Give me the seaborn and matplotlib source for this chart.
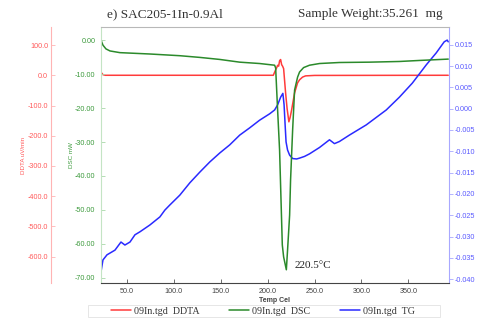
import matplotlib
matplotlib.use("Agg")
import matplotlib.pyplot as plt
import seaborn as sns
from matplotlib.ticker import FormatStrFormatter
from matplotlib.patches import Rectangle

# DSC (mW) vs temperature
temp_dsc = [22.3, 24.4, 27.6, 31.9, 42.5, 74.4, 106.3, 127.6, 148.9, 170.2, 191.4, 207.4,
            208.5, 210.6, 212.7, 215.6, 217.0, 219.9, 221.2, 223.4, 224.4, 226.6, 228.7,
            231.9, 234.0, 238.3, 244.6, 255.3, 276.5, 308.5, 340.4, 361.7, 392.5]
dsc = [0.0, -1.5, -2.6, -3.2, -3.7, -4.1, -4.6, -5.1, -5.7, -6.5, -6.9, -7.4,
       -8.2, -20.6, -32.4, -60.3, -63.8, -67.6, -61.8, -51.5, -41.2, -26.5, -14.7,
       -10.9, -9.4, -8.1, -7.4, -6.9, -6.6, -6.5, -6.3, -6.0, -5.6]

# DDTA (uV/min) vs temperature
temp_ddta = [22.3, 24.4, 27.0, 100.0, 206.0, 208.5, 209.6, 210.6, 211.7, 212.7, 213.8,
             214.9, 215.9, 217.0, 218.1, 219.1, 220.7, 222.6, 223.9, 225.5, 228.7, 231.9,
             234.0, 237.2, 240.4, 250.0, 392.5]
ddta = [10, 2, 0, 0, 0, 18, 25, 33, 30, 48, 52,
        35, 30, 22, -20, -58, -110, -154, -140, -115, -58, -25,
        -15, -6, -2, -0.5, 0]

# TG vs temperature
temp_tg = [22.3, 22.6, 24.4, 28.7, 37.2, 43.6, 47.8, 53.2, 58.5, 63.8, 74.4, 85.1, 90.4,
           95.7, 106.3, 117.0, 127.6, 138.3, 148.9, 159.5, 170.2, 180.8, 191.4, 202.1,
           207.4, 210.6, 213.8, 216.2, 217.5, 218.6, 219.6, 221.2, 223.4, 226.6, 230.8,
           234.0, 239.3, 244.6, 255.3, 265.9, 271.2, 276.5, 287.1, 305.1, 326.4, 340.4,
           354.2, 369.1, 379.7, 388.2, 391.4, 392.5]
tg = [-0.0198, -0.0379, -0.0355, -0.0343, -0.0332, -0.0313, -0.0320, -0.0313, -0.0296,
      -0.0289, -0.0273, -0.0254, -0.0238, -0.0226, -0.0203, -0.0174, -0.0149, -0.0125,
      -0.0104, -0.0085, -0.0062, -0.0045, -0.0027, -0.0012, -0.0003, 0.0009, 0.0027,
      0.0036, 0.0009, -0.0038, -0.0078, -0.0097, -0.0109, -0.0117, -0.0118, -0.0116,
      -0.0112, -0.0106, -0.0091, -0.0073, -0.0082, -0.0077, -0.0062, -0.0038, -0.0003,
      0.0027, 0.0060, 0.0103, 0.0131, 0.0157, 0.0161, 0.0157]

dsc_ticks = [0, -10, -20, -30, -40, -50, -60, -70]
ddta_ticks = [100, 0, -100, -200, -300, -400, -500, -600]
tg_ticks = [0.015, 0.010, 0.005, 0.0, -0.005, -0.010, -0.015, -0.020, -0.025, -0.030, -0.035, -0.040]
temp_ticks = [50, 100, 150, 200, 250, 300, 350]

RED = "#ff3b3b"
GREEN = "#2b8a2b"
BLUE = "#2a2aff"

sns.set_style("white")
plt.rcParams["font.family"] = ["Liberation Sans", "DejaVu Sans"]

fig = plt.figure(figsize=(4.8, 3.22), dpi=100)
ax = fig.add_axes([0.2104, 0.1221, 0.725, 0.7925])
ax_r = ax.twinx()
ax_b = ax.twinx()

sns.lineplot(x=temp_dsc, y=dsc, ax=ax, color=GREEN, linewidth=1.1, estimator=None)
sns.lineplot(x=temp_ddta, y=ddta, ax=ax_r, color=RED, linewidth=1.1, estimator=None)
sns.lineplot(x=temp_tg, y=tg, ax=ax_b, color=BLUE, linewidth=1.1, estimator=None)

ax.set_xlim(22.3, 393.3)
ax.set_ylim(-71.4, 3.7)
ax_r.set_ylim(-686, 158)
ax_b.set_ylim(-0.04084, 0.01906)

# green DSC axis (main, left edge of plot)
ax.set_xticks(temp_ticks)
ax.xaxis.set_major_formatter(FormatStrFormatter("%.1f"))
ax.set_yticks(dsc_ticks)
ax.yaxis.set_major_formatter(FormatStrFormatter("%.2f"))
ax.tick_params(axis="y", direction="in", length=3, width=0.6, pad=4, colors="#a8d8a8",
               labelcolor="#3c9a3c", labelsize=5.2, left=True)
ax.tick_params(axis="x", direction="in", length=3, width=0.6, pad=4, colors="#555555",
               labelcolor="#444444", labelsize=5.2, bottom=True)
ax.set_xlabel("Temp Cel", fontsize=5, color="#444444", labelpad=1, fontweight="bold")
ax.set_ylabel("DSC mW", fontsize=4.5, color="#3c9a3c", labelpad=1)
ax.spines["right"].set_visible(False)
ax.spines["left"].set_color("#c4e4c4")
ax.spines["top"].set_color("#b8b8b8")
ax.spines["bottom"].set_color("#444444")
for s in ax.spines.values():
    s.set_linewidth(0.8)

# red DDTA axis (offset left)
ax_r.yaxis.set_ticks_position("left")
ax_r.yaxis.set_label_position("left")
ax_r.spines["left"].set_position(("axes", -0.1437))
ax_r.spines["left"].set_visible(True)
ax_r.spines["left"].set_color("#ffb4b4")
ax_r.spines["left"].set_linewidth(0.8)
for s in ["right", "top", "bottom"]:
    ax_r.spines[s].set_visible(False)
ax_r.set_yticks(ddta_ticks)
ax_r.yaxis.set_major_formatter(FormatStrFormatter("%.1f"))
ax_r.tick_params(axis="y", direction="in", length=3, width=0.6, pad=2, colors="#ffb4b4",
                 labelcolor="#ff5a5a", labelsize=5.2, left=True)
ax_r.set_ylabel("DDTA uV/min", fontsize=4.5, color="#ff5a5a", labelpad=1)

# blue TG axis (right)
for s in ["left", "top", "bottom"]:
    ax_b.spines[s].set_visible(False)
ax_b.spines["right"].set_color("#a8a8ff")
ax_b.spines["right"].set_linewidth(0.8)
ax_b.set_yticks(tg_ticks)
ax_b.yaxis.set_major_formatter(FormatStrFormatter("%.3f"))
ax_b.tick_params(axis="y", direction="out", length=3, width=0.6, pad=1, colors="#a8a8ff",
                 labelcolor="#5a5aff", labelsize=5.2, right=True)
ax_b.set_ylabel("")
ax.set_zorder(ax_r.get_zorder() + 1)
ax.patch.set_visible(False)

serif = ["Liberation Serif", "DejaVu Serif"]
fig.text(107 / 480, 1 - 14 / 322, "e) SAC205-1In-0.9Al", ha="left", va="center",
         fontsize=9.5, family=serif, color="#333333")
fig.text(298 / 480, 1 - 14 / 322, "Sample Weight:35.261  mg", ha="left", va="center",
         fontsize=9.5, family=serif, color="#333333")
fig.text(295 / 480, 1 - 266 / 322, "220.5\u00b0C", ha="left", va="center",
         fontsize=8, family=serif, color="#222222")

# legend box and entries
fig.add_artist(Rectangle((88 / 480, 1 - 317 / 322), 352 / 480, 12 / 322,
                         transform=fig.transFigure, fill=False, edgecolor="#e2e2e2",
                         linewidth=0.6))
handles = [ax_r.lines[0], ax.lines[0], ax_b.lines[0]]
labels = ["09In.tgd  DDTA", "09In.tgd  DSC", "09In.tgd  TG"]
fig.legend(handles, labels, loc="center", bbox_to_anchor=(263 / 480, 1 - 311 / 322),
           ncol=3, frameon=False, prop={"family": serif, "size": 7.2},
           handlelength=2.0, handletextpad=0.35, columnspacing=2.9, borderpad=0.1,
           labelcolor="#333333")

fig.savefig("out.png", dpi=100)
